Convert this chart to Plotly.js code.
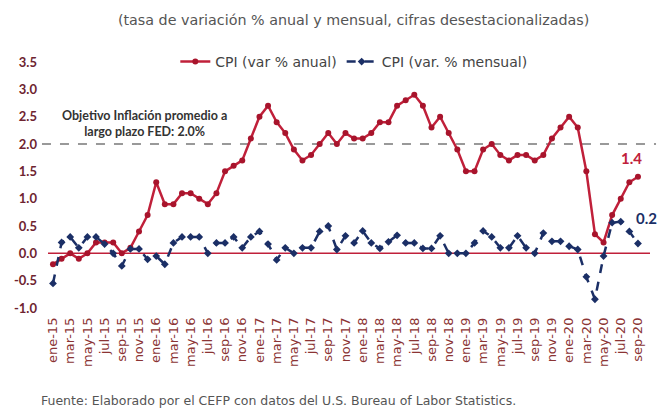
<!DOCTYPE html>
<html>
<head>
<meta charset="utf-8">
<script src="https://cdn.plot.ly/plotly-3.0.1.min.js"></script>
<style>html,body{margin:0;padding:0;background:#fff;}#chart{width:661px;height:410px;}</style>
</head>
<body>
<div id="chart"></div>
<script>
const monthNames = ["ene","feb","mar","abr","may","jun","jul","ago","sep","oct","nov","dic"];
const years = ["15","16","17","18","19","20"];
const months = [];
years.forEach(y => monthNames.forEach(m => months.push(m + "-" + y)));
months.length = 69; // ene-15 .. sep-20

const cpiAnual = [
  -0.2, -0.1, 0.0, -0.1, 0.0, 0.2, 0.2, 0.2, 0.0, 0.1, 0.4, 0.7,
  1.3, 0.9, 0.9, 1.1, 1.1, 1.0, 0.9, 1.1, 1.5, 1.6, 1.7, 2.1,
  2.5, 2.7, 2.4, 2.2, 1.9, 1.7, 1.8, 2.0, 2.2, 2.0, 2.2, 2.1,
  2.1, 2.2, 2.4, 2.4, 2.7, 2.8, 2.9, 2.7, 2.3, 2.5, 2.2, 1.9,
  1.5, 1.5, 1.9, 2.0, 1.8, 1.7, 1.8, 1.8, 1.7, 1.8, 2.1, 2.3,
  2.5, 2.3, 1.5, 0.35, 0.2, 0.7, 1.0, 1.3, 1.4
];
const cpiMensual = [
  -0.55, 0.2, 0.3, 0.1, 0.3, 0.3, 0.17, 0.0, -0.23, 0.08, 0.08, -0.11,
  -0.05, -0.2, 0.19, 0.3, 0.3, 0.3, 0.0, 0.19, 0.19, 0.3, 0.1, 0.3,
  0.4, 0.17, -0.12, 0.1, 0.0, 0.1, 0.1, 0.4, 0.5, 0.07, 0.32, 0.19,
  0.41, 0.19, 0.09, 0.21, 0.33, 0.19, 0.19, 0.09, 0.09, 0.32, 0.0, 0.0,
  0.0, 0.19, 0.41, 0.3, 0.1, 0.1, 0.32, 0.1, 0.0, 0.37, 0.22, 0.22,
  0.13, 0.07, -0.43, -0.84, -0.05, 0.56, 0.58, 0.4, 0.18
];
const tickLabels = months.filter((m, i) => i % 2 === 0);
const yTicks = [-1.0, -0.5, 0.0, 0.5, 1.0, 1.5, 2.0, 2.5, 3.0, 3.5];
const fedTarget = 2.0;

const FONT = "Lato, 'Open Sans', sans-serif";
const WIDE = "'DejaVu Sans', sans-serif";
const traces = [
  {
    x: months, y: cpiAnual, name: "CPI (var % anual)", type: "scatter", mode: "lines+markers",
    line: {color: "#C0203A", width: 2.5},
    marker: {symbol: "circle", size: 6, color: "#A8142C"}
  },
  {
    x: months, y: cpiMensual, name: "CPI (var. % mensual)", type: "scatter", mode: "lines+markers",
    line: {color: "#1B2F66", width: 2.5, dash: "dash"},
    marker: {symbol: "diamond", size: 6, color: "#1B2F66"}
  }
];

const layout = {
  width: 661, height: 410,
  margin: {l: 48, r: 11, t: 62, b: 102},
  paper_bgcolor: "#fff", plot_bgcolor: "#fff",
  font: {family: FONT, color: "#444"},
  title: {text: "(tasa de variación % anual y mensual, cifras desestacionalizadas)",
          font: {family: WIDE, size: 14.3, color: "#555"}, x: 0.535, xanchor: "center", y: 0.952, yanchor: "middle"},
  showlegend: true,
  legend: {orientation: "h", x: 0.508, xanchor: "center", y: 1.0, yanchor: "middle",
           font: {family: WIDE, size: 14, color: "#444"}, bgcolor: "rgba(0,0,0,0)", traceorder: "normal"},
  xaxis: {
    type: "category", categoryorder: "array", categoryarray: months,
    range: [-0.58, 69.4],
    tickmode: "array", tickvals: tickLabels, ticktext: tickLabels,
    tickangle: -90, tickfont: {family: WIDE, size: 13, color: "#8B3434"},
    showgrid: false, zeroline: false, showline: false, ticks: "",
    ticklabelstandoff: 6
  },
  yaxis: {
    range: [-1.0, 3.5], tickmode: "array", tickvals: yTicks,
    ticktext: yTicks.map(v => v.toFixed(1)),
    tickfont: {family: FONT, size: 13, color: "#6E2430", weight: "bold"},
    showgrid: false, zeroline: false, showline: false, ticks: "",
    ticklabelstandoff: 10
  },
  shapes: [
    {type: "line", xref: "paper", x0: -0.01, x1: 1.01, yref: "y", y0: fedTarget, y1: fedTarget,
     line: {color: "#999", width: 2, dash: "dash"}, layer: "below"},
    {type: "line", xref: "paper", x0: 0, x1: 1, yref: "y", y0: 0, y1: 0,
     line: {color: "#C0203A", width: 1.5}, layer: "below"}
  ],
  annotations: [
    {xref: "paper", yref: "paper", x: 0.161, y: 0.75, xanchor: "center", yanchor: "middle",
     text: "<b>Objetivo Inflación promedio a<br>largo plazo FED: 2.0%</b>", showarrow: false,
     font: {family: FONT, size: 12.5, color: "#333"}},
    {xref: "x", yref: "y", x: months[68], y: cpiAnual[68], xanchor: "center", yanchor: "bottom", yshift: 8, xshift: -6,
     text: "<b>" + cpiAnual[68].toFixed(1) + "</b>", showarrow: false,
     font: {family: FONT, size: 15, color: "#C0203A"}},
    {xref: "x", yref: "y", x: months[68], y: cpiMensual[68], xanchor: "center", yanchor: "bottom", yshift: 14, xshift: 9,
     text: "<b>" + cpiMensual[68].toFixed(1) + "</b>", showarrow: false,
     font: {family: FONT, size: 15, color: "#1B2F66"}},
    {xref: "paper", yref: "paper", x: -0.015, y: -0.375, xanchor: "left", yanchor: "middle",
     text: "Fuente: Elaborado por el CEFP con datos del U.S. Bureau of Labor Statistics.", showarrow: false,
     font: {family: WIDE, size: 12.5, color: "#555"}}
  ]
};

Plotly.newPlot("chart", traces, layout, {displayModeBar: false, staticPlot: true});
</script>
</body>
</html>
